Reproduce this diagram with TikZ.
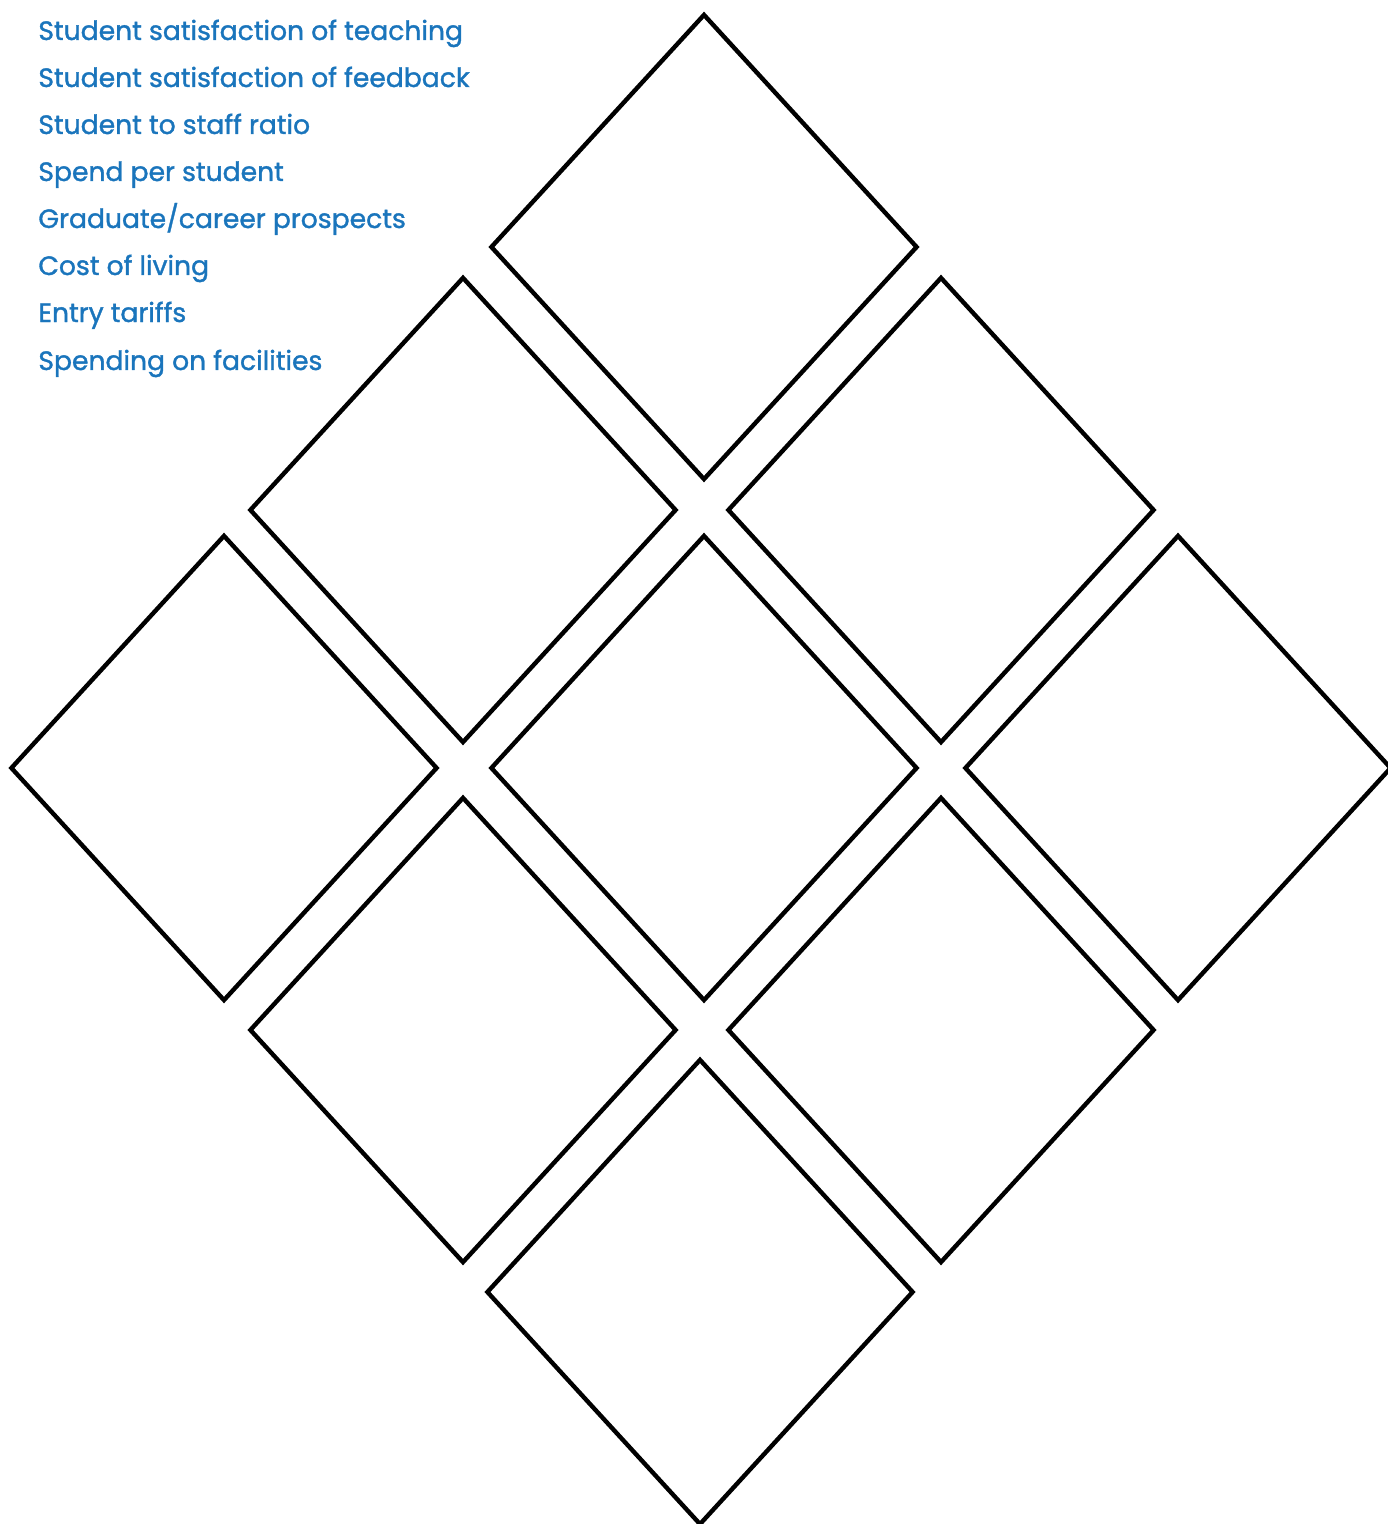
\documentclass[tikz,border=0pt]{standalone}
\usepackage{fontspec}
\setmainfont{Poppins}[FakeBold=1.3]
\definecolor{rankBlue}{RGB}{26,117,188}
\usetikzlibrary{shapes.geometric}

\begin{document}
\begin{tikzpicture}[x=0.5pt, y=-0.5pt,
  card/.style={draw, line width=2.2pt, shape=diamond, inner sep=0pt,
               minimum width=213.5pt, minimum height=233pt, miter limit=20},
  factor/.style={anchor=base west, inner sep=0pt, text=rankBlue,
                 font=\fontsize{13.3}{16}\selectfont}
]
  \useasboundingbox (0,0) rectangle (1387,1524);

  % factors to rank
  \node[factor] (f1) at (38,40)  {Student satisfaction of teaching};
  \node[factor] (f2) at (38,87)  {Student satisfaction of feedback};
  \node[factor] (f3) at (38,134) {Student to staff ratio};
  \node[factor] (f4) at (38,181) {Spend per student};
  \node[factor] (f5) at (38,228) {Graduate/career prospects};
  \node[factor] (f6) at (38,275) {Cost of living};
  \node[factor] (f7) at (38,322) {Entry tariffs};
  \node[factor] (f8) at (38,370) {Spending on facilities};

  % diamond nine
  \node[card] (top)    at (704,247)  {};
  \node[card] (upL)    at (463,510)  {};
  \node[card] (upR)    at (941,510)  {};
  \node[card] (midL)   at (224,768)  {};
  \node[card] (mid)    at (704,768)  {};
  \node[card] (midR)   at (1178,768) {};
  \node[card] (lowL)   at (463,1030) {};
  \node[card] (lowR)   at (941,1030) {};
  \node[card] (bottom) at (700,1292) {};
\end{tikzpicture}
\end{document}
